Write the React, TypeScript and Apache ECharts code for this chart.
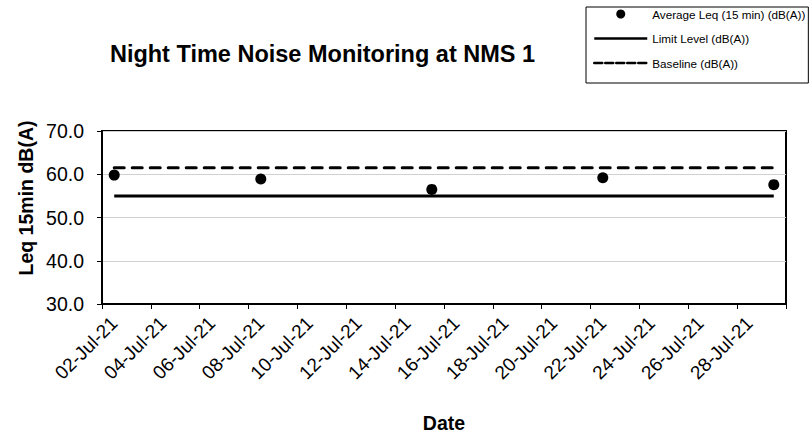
import { useEffect, useRef } from "react";
import * as echarts from "echarts";

const categories = [
  "02-Jul-21", "03-Jul-21", "04-Jul-21", "05-Jul-21", "06-Jul-21", "07-Jul-21", "08-Jul-21",
  "09-Jul-21", "10-Jul-21", "11-Jul-21", "12-Jul-21", "13-Jul-21", "14-Jul-21", "15-Jul-21",
  "16-Jul-21", "17-Jul-21", "18-Jul-21", "19-Jul-21", "20-Jul-21", "21-Jul-21", "22-Jul-21",
  "23-Jul-21", "24-Jul-21", "25-Jul-21", "26-Jul-21", "27-Jul-21", "28-Jul-21", "29-Jul-21",
];
const measureDates = ["02-Jul-21", "08-Jul-21", "15-Jul-21", "22-Jul-21", "29-Jul-21"];
const averageLeq = [59.8, 58.9, 56.5, 59.2, 57.6];
const limitLevel = [55, 55];
const baselineLevel = [61.5, 61.5];
const lineDates = ["02-Jul-21", "29-Jul-21"];

const FONT = "'Liberation Sans', Arial, sans-serif";

export default function App() {
  const ref = useRef<HTMLDivElement>(null);
  useEffect(() => {
    document.body.style.margin = "0";
    if (!ref.current) return;
    const chart = echarts.init(ref.current, null, { renderer: "svg" });
    chart.setOption({
      animation: false,
      backgroundColor: "#ffffff",
      textStyle: { fontFamily: FONT, color: "#000" },
      grid: {
        left: 102,
        right: 23,
        top: 131,
        bottom: 131,
        show: true,
        borderColor: "#000",
        borderWidth: 2,
        backgroundColor: "transparent",
      },
      legend: {
        orient: "vertical",
        left: 586,
        top: 7,
        padding: [0, 3, 13, 7],
        itemWidth: 53,
        itemHeight: 9,
        itemGap: 10.5,
        borderColor: "#000",
        borderWidth: 1,
        textStyle: { fontSize: 11.7, color: "#000", fontFamily: FONT, lineHeight: 14 },
        data: [
          { name: "Average Leq (15 min) (dB(A))", icon: "circle", itemStyle: { color: "#000", opacity: 1 } },
          {
            name: "Limit Level (dB(A))",
            itemStyle: { opacity: 0 },
            lineStyle: { color: "#000", width: 2.5, type: "solid" },
          },
          {
            name: "Baseline (dB(A))",
            itemStyle: { opacity: 0 },
            lineStyle: { color: "#000", width: 2.5, type: [8, 3] },
          },
        ],
      },
      xAxis: {
        type: "category",
        data: categories,
        boundaryGap: true,
        axisLine: { lineStyle: { color: "#000", width: 2 } },
        axisTick: { show: true, interval: 1, length: 5, lineStyle: { color: "#000", width: 1 } },
        axisLabel: {
          interval: 1,
          rotate: 45,
          margin: 16,
          fontSize: 19,
          color: "#000",
          fontFamily: FONT,
        },
        splitLine: { show: false },
      },
      yAxis: {
        type: "value",
        min: 30,
        max: 70,
        interval: 10,
        axisLine: { show: true, lineStyle: { color: "#000", width: 2 } },
        axisTick: { show: true, length: 5, lineStyle: { color: "#000", width: 1 } },
        axisLabel: {
          margin: 18,
          fontSize: 19.5,
          color: "#000",
          fontFamily: FONT,
          formatter: (v: number) => v.toFixed(1),
        },
        splitLine: { show: true, lineStyle: { color: "#d0d0d0", width: 1 } },
      },
      graphic: [
        {
          type: "text",
          x: 322.5,
          y: 54,
          style: {
            text: "Night Time Noise Monitoring at NMS 1",
            font: `bold 23.5px ${FONT}`,
            fill: "#000",
            textAlign: "center",
            textVerticalAlign: "middle",
          },
        },
        {
          type: "text",
          x: 26,
          y: 198,
          rotation: Math.PI / 2,
          style: {
            text: "Leq 15min dB(A)",
            font: `bold 19.5px ${FONT}`,
            fill: "#000",
            textAlign: "center",
            textVerticalAlign: "middle",
          },
        },
        {
          type: "text",
          x: 444,
          y: 423,
          style: {
            text: "Date",
            font: `bold 19.5px ${FONT}`,
            fill: "#000",
            textAlign: "center",
            textVerticalAlign: "middle",
          },
        },
      ],
      series: [
        {
          name: "Limit Level (dB(A))",
          type: "line",
          symbol: "none",
          data: lineDates.map((d, i) => [d, limitLevel[i]]),
          lineStyle: { color: "#000", width: 3, type: "solid" },
          itemStyle: { color: "#000" },
          z: 2,
        },
        {
          name: "Baseline (dB(A))",
          type: "line",
          symbol: "none",
          data: lineDates.map((d, i) => [d, baselineLevel[i]]),
          lineStyle: { color: "#000", width: 3, type: [10, 8], cap: "round" },
          itemStyle: { color: "#000" },
          z: 2,
        },
        {
          name: "Average Leq (15 min) (dB(A))",
          type: "scatter",
          symbol: "circle",
          symbolSize: 11,
          data: measureDates.map((d, i) => [d, averageLeq[i]]),
          itemStyle: { color: "#000", opacity: 1 },
          z: 3,
        },
      ],
    });
    return () => chart.dispose();
  }, []);
  return <div ref={ref} style={{ width: 809, height: 435 }} />;
}
